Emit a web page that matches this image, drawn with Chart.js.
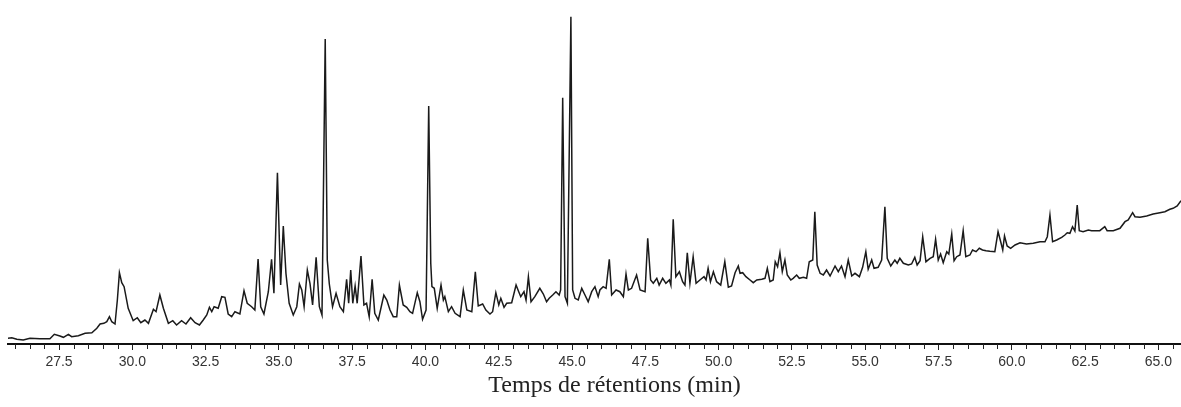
<!DOCTYPE html>
<html lang="fr">
<head>
    <meta charset="UTF-8">
    <title>Chromatogramme</title>
    <script src="https://cdn.jsdelivr.net/npm/chart.js"></script>
    <style>
        body {
            margin: 0;
            padding: 0;
            background: #fff;
        }
        #chrom {
            display: block;
        }
    </style>
</head>
<body>
    <canvas id="chrom" width="1181" height="407"></canvas>

    <script>
        // temps de rétention (min)
        const times = [
            25.73, 25.89, 26.06, 26.28, 26.51, 26.85, 27.19, 27.34, 27.53, 27.65,
            27.82, 27.93, 28.16, 28.39, 28.62, 28.79, 28.90, 29.03, 29.13, 29.22,
            29.30, 29.41, 29.49, 29.56, 29.64, 29.72, 29.86, 30.03, 30.17, 30.29,
            30.43, 30.55, 30.72, 30.81, 30.94, 31.06, 31.23, 31.38, 31.51, 31.68,
            31.83, 31.99, 32.14, 32.29, 32.42, 32.54, 32.63, 32.71, 32.79, 32.93,
            33.05, 33.16, 33.27, 33.39, 33.50, 33.67, 33.81, 33.92, 34.07, 34.18,
            34.29, 34.38, 34.49, 34.64, 34.75, 34.83, 34.95, 35.06, 35.15, 35.24,
            35.35, 35.49, 35.61, 35.70, 35.78, 35.86, 35.97, 36.06, 36.15, 36.27,
            36.38, 36.47, 36.58, 36.65, 36.72, 36.83, 36.95, 37.08, 37.20, 37.31,
            37.38, 37.45, 37.52, 37.60, 37.67, 37.80, 37.90, 37.99, 38.08, 38.18,
            38.27, 38.39, 38.58, 38.68, 38.79, 38.90, 39.02, 39.11, 39.24, 39.36,
            39.47, 39.56, 39.72, 39.81, 39.90, 40.02, 40.11, 40.18, 40.22, 40.30,
            40.40, 40.53, 40.61, 40.66, 40.78, 40.89, 41.01, 41.18, 41.29, 41.41,
            41.58, 41.70, 41.80, 41.95, 42.06, 42.20, 42.29, 42.40, 42.50, 42.57,
            42.68, 42.77, 42.94, 43.09, 43.18, 43.25, 43.36, 43.43, 43.51, 43.60,
            43.73, 43.90, 44.02, 44.13, 44.22, 44.34, 44.45, 44.56, 44.61, 44.68,
            44.76, 44.84, 44.96, 45.02, 45.10, 45.21, 45.33, 45.44, 45.55, 45.67,
            45.78, 45.89, 45.95, 46.06, 46.16, 46.27, 46.35, 46.50, 46.63, 46.75,
            46.84, 46.92, 47.03, 47.20, 47.32, 47.49, 47.58, 47.68, 47.77, 47.89,
            47.97, 48.09, 48.20, 48.32, 48.37, 48.45, 48.54, 48.66, 48.77, 48.85,
            48.93, 49.02, 49.13, 49.23, 49.36, 49.50, 49.57, 49.64, 49.72, 49.82,
            49.93, 50.07, 50.21, 50.33, 50.44, 50.56, 50.67, 50.73, 50.82, 50.93,
            51.07, 51.18, 51.30, 51.47, 51.58, 51.66, 51.75, 51.86, 51.93, 52.01,
            52.09, 52.17, 52.26, 52.34, 52.46, 52.54, 52.66, 52.75, 52.89, 53.00,
            53.09, 53.21, 53.28, 53.36, 53.46, 53.57, 53.68, 53.80, 53.97, 54.08,
            54.19, 54.31, 54.42, 54.54, 54.65, 54.80, 54.91, 55.02, 55.10, 55.22,
            55.30, 55.44, 55.56, 55.67, 55.75, 55.87, 56.01, 56.09, 56.18, 56.30,
            56.47, 56.58, 56.69, 56.77, 56.87, 56.96, 57.07, 57.21, 57.32, 57.40,
            57.49, 57.57, 57.66, 57.78, 57.85, 57.95, 58.03, 58.12, 58.23, 58.34,
            58.43, 58.57, 58.66, 58.78, 58.89, 59.00, 59.12, 59.25, 59.42, 59.53,
            59.62, 59.69, 59.75, 59.84, 59.96, 60.11, 60.28, 60.50, 60.73, 60.96,
            61.13, 61.21, 61.30, 61.39, 61.53, 61.70, 61.81, 61.89, 61.98, 62.07,
            62.15, 62.23, 62.30, 62.43, 62.61, 62.72, 62.87, 63.00, 63.17, 63.25,
            63.46, 63.69, 63.86, 63.97, 64.12, 64.20, 64.37, 64.60, 64.82, 65.05,
            65.22, 65.39, 65.50, 65.64, 65.77
        ];

        // intensité du signal (unités arbitraires)
        const signal = [
            5.7, 6.3, 4.7, 4.0, 5.7, 5.3, 5.3, 9.7, 8.0, 6.7,
            9.7, 7.3, 8.3, 10.7, 11.3, 15.7, 20.0, 20.7, 22.3, 27.3,
            22.3, 20.0, 44.0, 71.3, 61.3, 57.3, 35.7, 23.3, 26.3, 21.3,
            24.0, 20.7, 34.7, 32.3, 49.0, 35.7, 20.7, 23.3, 19.0, 23.3,
            20.0, 26.3, 21.3, 19.0, 24.0, 29.0, 36.7, 32.3, 37.3, 35.7,
            47.3, 46.7, 30.0, 27.3, 32.3, 30.0, 53.3, 40.7, 37.3, 34.0,
            85.0, 37.3, 30.0, 52.3, 84.7, 50.7, 171.3, 59.0, 118.0, 70.7,
            40.7, 29.0, 37.3, 60.0, 54.0, 37.3, 74.0, 60.7, 39.0, 86.7,
            37.3, 29.0, 305.0, 84.0, 60.0, 37.3, 50.7, 37.3, 32.3, 64.7,
            40.7, 74.0, 40.7, 58.0, 40.7, 88.0, 39.0, 40.7, 27.3, 64.7,
            30.7, 24.0, 49.0, 44.0, 34.0, 27.3, 27.3, 59.0, 39.0, 36.7,
            32.3, 30.7, 51.3, 42.3, 24.7, 34.0, 238.0, 80.7, 57.3, 55.7,
            35.7, 59.0, 44.0, 47.3, 32.3, 37.3, 30.7, 27.3, 54.0, 34.0,
            32.3, 72.3, 38.0, 40.0, 34.0, 30.0, 32.3, 51.3, 39.0, 45.7,
            36.7, 40.7, 41.3, 59.0, 52.3, 47.3, 52.3, 44.0, 67.3, 42.3,
            47.3, 55.7, 50.0, 42.3, 45.7, 49.0, 52.3, 49.0, 54.0, 246.3,
            47.3, 40.7, 327.3, 54.0, 45.7, 44.0, 55.7, 49.0, 42.3, 52.3,
            57.3, 47.3, 54.0, 57.3, 55.7, 84.7, 49.0, 54.0, 52.3, 47.3,
            70.0, 54.0, 55.7, 69.0, 54.0, 52.3, 105.7, 64.0, 60.7, 65.7,
            59.0, 65.7, 60.7, 64.0, 59.0, 124.7, 67.3, 72.3, 62.3, 59.0,
            91.3, 60.7, 87.3, 60.7, 64.0, 67.3, 64.0, 75.7, 62.3, 72.3,
            62.3, 59.0, 82.3, 56.7, 58.0, 71.3, 78.0, 70.7, 71.3, 67.3,
            64.0, 61.3, 64.0, 64.7, 65.7, 75.7, 62.3, 64.0, 82.3, 77.3,
            91.3, 72.3, 84.0, 69.0, 64.0, 65.7, 69.0, 65.7, 66.7, 65.7,
            82.3, 84.0, 132.3, 79.0, 70.7, 69.0, 74.0, 68.0, 78.0, 72.3,
            78.0, 67.3, 84.0, 68.0, 70.7, 67.3, 76.7, 92.3, 74.7, 84.0,
            75.7, 76.7, 84.0, 137.3, 85.7, 78.0, 84.0, 80.7, 85.7, 80.7,
            79.0, 80.0, 86.7, 79.0, 83.3, 107.3, 82.3, 85.7, 87.3, 104.7,
            84.0, 90.0, 81.3, 92.3, 90.0, 110.0, 83.3, 87.3, 89.0, 113.3,
            87.3, 89.0, 94.0, 92.3, 95.7, 94.0, 93.3, 92.7, 92.3, 112.3,
            102.3, 94.0, 108.0, 98.0, 95.7, 99.0, 101.3, 100.0, 100.7, 102.3,
            102.3, 107.3, 129.0, 102.3, 104.0, 106.7, 109.0, 111.3, 110.7, 117.3,
            113.0, 139.0, 113.3, 112.3, 114.0, 113.3, 113.3, 113.3, 117.3, 113.3,
            113.3, 115.7, 122.3, 124.0, 131.3, 127.3, 126.7, 128.0, 130.0, 131.3,
            132.3, 134.7, 135.7, 138.0, 143.3
        ];

        const xMin = 25.76;
        const xMax = 65.77;
        const majorStep = 2.5;
        const minorStep = 0.5;
        const axisTitle = "Temps de rétentions (min)";

        // petites graduations + titre de l'axe
        const minorTicks = {
            id: 'minorTicks',
            afterDraw(chart) {
                const ctx = chart.ctx;
                const xs = chart.scales.x;
                const bottom = chart.chartArea.bottom;
                ctx.save();
                ctx.strokeStyle = '#222';
                ctx.lineWidth = 1;
                ctx.beginPath();
                for (let v = Math.ceil(xMin / minorStep) * minorStep; v <= xMax; v += minorStep) {
                    const r = v / majorStep;
                    if (Math.abs(r - Math.round(r)) < 1e-6) continue;
                    const px = Math.round(xs.getPixelForValue(v)) + 0.5;
                    ctx.moveTo(px, bottom);
                    ctx.lineTo(px, bottom + 5);
                }
                ctx.stroke();

                ctx.fillStyle = '#222';
                ctx.font = '24px "Liberation Serif", "Times New Roman", serif';
                ctx.textAlign = 'center';
                ctx.textBaseline = 'alphabetic';
                const cx = (chart.chartArea.left + chart.chartArea.right) / 2 + 20;
                ctx.fillText(axisTitle, cx, 392);
                ctx.restore();
            }
        };

        new Chart(document.getElementById('chrom'), {
            type: 'line',
            data: {
                datasets: [{
                    data: times.map((t, i) => ({ x: t, y: signal[i] })),
                    borderColor: '#1a1a1a',
                    borderWidth: 1.5,
                    pointRadius: 0,
                    tension: 0,
                    fill: false
                }]
            },
            options: {
                responsive: false,
                animation: false,
                devicePixelRatio: 1,
                layout: {
                    padding: { left: 8, right: 0, top: 4, bottom: 0 }
                },
                plugins: {
                    legend: { display: false },
                    tooltip: { enabled: false }
                },
                scales: {
                    x: {
                        type: 'linear',
                        min: xMin,
                        max: xMax,
                        afterFit(scale) { scale.height = 63; },
                        border: { display: true, color: '#111', width: 2 },
                        grid: {
                            drawOnChartArea: false,
                            drawTicks: true,
                            tickLength: 6,
                            tickColor: '#222'
                        },
                        ticks: {
                            stepSize: majorStep,
                            includeBounds: false,
                            autoSkip: false,
                            maxRotation: 0,
                            padding: 4,
                            color: '#333',
                            font: { family: '"Liberation Sans", Arial, sans-serif', size: 14 },
                            callback: (v) => Number(v).toFixed(1)
                        }
                    },
                    y: {
                        display: false,
                        min: 0,
                        max: 340
                    }
                }
            },
            plugins: [minorTicks]
        });
    </script>
</body>
</html>
